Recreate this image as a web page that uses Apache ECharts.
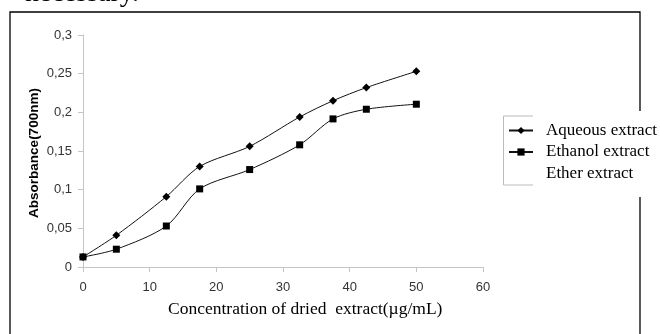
<!DOCTYPE html>
<html>
<head>
<meta charset="utf-8">
<script src="https://cdn.jsdelivr.net/npm/echarts@6/dist/echarts.min.js"></script>
<style>
  html, body { margin: 0; padding: 0; background: #fff; }
  #chart { width: 660px; height: 334px; }
</style>
</head>
<body>
<div id="chart"></div>
<script>
const concentrations = [0, 5, 12.5, 17.5, 25, 32.5, 37.5, 42.5, 50];
const aqueous = [0.013, 0.041, 0.091, 0.130, 0.156, 0.194, 0.215, 0.232, 0.253];
const ethanol = [0.013, 0.023, 0.053, 0.101, 0.126, 0.158, 0.1915, 0.204, 0.2105];
const ether = [];
const seriesNames = ["Aqueous extract", "Ethanol extract", "Ether extract"];

const pairs = (ys) => ys.map((y, i) => [concentrations[i], y]);
const commaFmt = (v) => String(v).replace(".", ",");

const chart = echarts.init(document.getElementById("chart"));

const serif = "'Liberation Serif', 'Times New Roman', serif";
const sans = "'Liberation Sans', Arial, sans-serif";

const option = {
  animation: false,
  grid: { left: 83, right: 177, top: 35, bottom: 67 },
  legend: {
    orient: "vertical",
    left: 503,
    top: 117,
    itemWidth: 24,
    itemHeight: 9,
    itemGap: 4.5,
    textStyle: { fontFamily: serif, fontSize: 17, color: "#000", padding: [0, 0, 0, 8] },
    data: [
      { name: seriesNames[0] },
      { name: seriesNames[1] },
      { name: seriesNames[2], itemStyle: { opacity: 0 }, lineStyle: { opacity: 0 } },
    ],
  },
  xAxis: {
    type: "value",
    min: 0,
    max: 60,
    interval: 10,
    splitLine: { show: false },
    axisLine: { lineStyle: { color: "#c4c4c4" } },
    axisTick: { length: 5, lineStyle: { color: "#c4c4c4" } },
    axisLabel: { fontFamily: sans, fontSize: 13, color: "#333", margin: 14 },
  },
  yAxis: {
    type: "value",
    min: 0,
    max: 0.3,
    interval: 0.05,
    splitLine: { show: false },
    axisLine: { show: true, lineStyle: { color: "#c4c4c4" } },
    axisTick: { show: true, length: 5, lineStyle: { color: "#c4c4c4" } },
    axisLabel: { fontFamily: sans, fontSize: 13, color: "#333", margin: 11, formatter: commaFmt },
  },
  series: [
    {
      name: seriesNames[0],
      type: "line",
      smooth: 0.3,
      symbol: "diamond",
      symbolSize: 8,
      itemStyle: { color: "#000" },
      lineStyle: { color: "#111", width: 1 },
      data: pairs(aqueous),
    },
    {
      name: seriesNames[1],
      type: "line",
      smooth: 0.3,
      symbol: "rect",
      symbolSize: 7,
      itemStyle: { color: "#000" },
      lineStyle: { color: "#111", width: 1 },
      data: pairs(ethanol),
    },
    {
      name: seriesNames[2],
      type: "line",
      symbol: "none",
      itemStyle: { color: "#fff" },
      lineStyle: { color: "#fff", width: 0 },
      data: ether,
    },
  ],
  graphic: [
    // frame round the figure
    { type: "polyline", shape: { points: [[10, 334], [10, 12], [640, 12], [640, 111]] }, style: { stroke: "#000", lineWidth: 1.3, fill: null } },
    { type: "line", shape: { x1: 640, y1: 197, x2: 640, y2: 334 }, style: { stroke: "#000", lineWidth: 1.3 } },
    // legend box (partly hidden)
    { type: "polyline", shape: { points: [[533, 116], [503.5, 116], [503.5, 185], [533, 185]] }, style: { stroke: "#bbb", lineWidth: 1, fill: null } },
    // clipped caption text above the figure
    { type: "text", left: 25, top: -20, style: { text: "necessary.", font: "28px " + serif, fill: "#000" } },
    // y axis title (placed by hand, v6 pushes axis names past the labels)
    {
      type: "text", x: 34, y: 153, rotation: Math.PI / 2,
      style: { text: "Absorbance(700nm)", font: "bold 13.5px " + sans, fill: "#000", align: "center", verticalAlign: "middle" },
    },
    // x axis title
    { type: "text", left: 168, top: 300, style: { text: "Concentration of dried  extract(\u00b5g/mL)", font: "17.5px " + serif, fill: "#000" } },
  ],
};

chart.setOption(option);
</script>
</body>
</html>
